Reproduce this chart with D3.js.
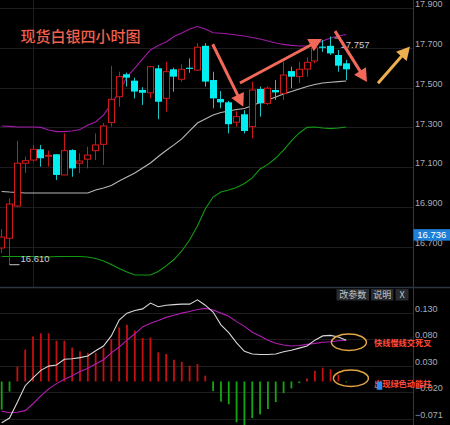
<!DOCTYPE html>
<html><head><meta charset="utf-8">
<script src="https://cdn.jsdelivr.net/npm/d3@7"></script>
<style>html,body{margin:0;padding:0;background:#000;overflow:hidden}</style>
</head><body><svg id="c" width="450" height="425"></svg>
<script>
// ---------------- data ----------------
const barIndex = d3.range(45);
const open  = [16.694,16.743,16.905,17.120,17.136,17.190,17.155,17.165,17.061,17.186,17.120,17.140,17.183,17.215,17.324,17.454,17.567,17.535,17.488,17.474,17.597,17.446,17.592,17.542,17.600,17.588,17.710,17.538,17.443,17.426,17.326,17.366,17.304,17.493,17.421,17.488,17.471,17.583,17.555,17.593,17.634,17.706,17.710,17.664,17.622];
const high  = [16.789,16.944,17.233,17.153,17.212,17.212,17.183,17.166,17.270,17.190,17.170,17.203,17.270,17.322,17.609,17.580,17.575,17.550,17.502,17.609,17.614,17.630,17.600,17.617,17.647,17.723,17.723,17.580,17.483,17.433,17.382,17.387,17.530,17.505,17.505,17.538,17.630,17.605,17.630,17.652,17.723,17.739,17.757,17.689,17.639];
const low   = [16.669,16.610,16.900,17.072,17.128,17.103,17.103,17.036,17.060,17.052,17.070,17.094,17.136,17.111,17.304,17.404,17.505,17.446,17.413,17.446,17.341,17.379,17.479,17.530,17.575,17.583,17.505,17.396,17.396,17.270,17.304,17.270,17.245,17.354,17.413,17.438,17.438,17.497,17.522,17.555,17.622,17.680,17.664,17.580,17.538];
const close = [16.749,16.915,17.120,17.133,17.190,17.145,17.160,17.061,17.183,17.094,17.131,17.161,17.212,17.307,17.441,17.555,17.550,17.480,17.474,17.605,17.429,17.580,17.555,17.592,17.597,17.703,17.530,17.446,17.426,17.316,17.354,17.282,17.488,17.421,17.497,17.476,17.563,17.555,17.592,17.627,17.700,17.702,17.672,17.610,17.592];

const bollUpper = [17.307,17.305,17.302,17.302,17.302,17.300,17.287,17.279,17.279,17.282,17.289,17.312,17.327,17.362,17.418,17.478,17.553,17.598,17.644,17.689,17.712,17.729,17.757,17.774,17.794,17.807,17.794,17.776,17.773,17.769,17.764,17.759,17.752,17.744,17.734,17.724,17.717,17.712,17.709,17.709,17.717,17.734,17.749,17.759,17.767];
const bollMid   = [16.978,16.975,16.973,16.970,16.970,16.970,16.970,16.970,16.970,16.970,16.970,16.970,16.985,16.995,17.008,17.031,17.051,17.071,17.096,17.121,17.154,17.184,17.212,17.242,17.282,17.322,17.342,17.362,17.375,17.382,17.390,17.395,17.410,17.425,17.438,17.453,17.468,17.480,17.493,17.506,17.516,17.523,17.527,17.530,17.533];
const bollLower = [16.651,16.651,16.651,16.651,16.651,16.649,16.649,16.651,16.651,16.651,16.651,16.649,16.641,16.629,16.611,16.591,16.573,16.558,16.558,16.558,16.576,16.604,16.636,16.679,16.734,16.805,16.890,16.950,16.975,16.985,16.998,17.018,17.046,17.091,17.114,17.146,17.186,17.232,17.272,17.300,17.302,17.297,17.294,17.297,17.302];

const macdHist = [-0.053,-0.019,0.028,0.060,0.085,0.091,0.091,0.077,0.077,0.064,0.057,0.054,0.054,0.063,0.080,0.102,0.107,0.096,0.082,0.083,0.055,0.052,0.041,0.037,0.030,0.033,0.011,-0.018,-0.038,-0.043,-0.077,-0.083,-0.069,-0.062,-0.052,-0.039,-0.022,-0.013,-0.003,0.006,0.020,0.026,0.023,0.013,-0.001];
const macdDif  = [-0.078,-0.069,-0.039,-0.008,0.007,0.021,0.029,0.031,0.042,0.043,0.045,0.048,0.058,0.067,0.086,0.116,0.129,0.134,0.137,0.148,0.141,0.144,0.145,0.146,0.146,0.154,0.144,0.131,0.107,0.092,0.073,0.057,0.052,0.051,0.051,0.052,0.056,0.059,0.063,0.067,0.078,0.086,0.087,0.084,0.078];
const macdDea  = [-0.056,-0.059,-0.058,-0.055,-0.042,-0.027,-0.014,-0.004,0.004,0.011,0.019,0.025,0.033,0.041,0.054,0.065,0.078,0.090,0.103,0.110,0.115,0.121,0.125,0.129,0.132,0.136,0.138,0.135,0.129,0.123,0.113,0.104,0.093,0.086,0.078,0.072,0.069,0.067,0.068,0.070,0.072,0.074,0.075,0.077,0.078];

const priceTicks = [17.9,17.7,17.5,17.3,17.1,16.9,16.7];
const macdTicks  = [0.130,0.080,0.030,-0.020,-0.071];
const lastPrice = 16.736;
const minMark = {i:1, v:16.610, text:"16.610"};
const maxMark = {i:42, v:17.757, text:"17.757"};
const title = "现货白银四小时图";
const note1 = "快线慢线交死叉";
const note2 = "出现绿色动能柱";
const buttons = ["改参数","说明","X"];
// annotation arrows in data space [i1, p1, i2, p2]
const redArrows = [[26.95,17.718,30.86,17.404],[30.43,17.523,40.91,17.744],[42.57,17.784,46.65,17.528]];
const goldArrow = [48.06,17.522,52.14,17.706];
const circles = [[44.35,0.074],[44.6,0.006]];

// ---------------- scales ----------------
const W = 450, H = 425, axisX = 413.5;
const x = d3.scaleLinear().domain([0,44]).range([1.7,346.2]);
const yP = d3.scaleLinear().domain([16.7,17.9]).range([246.8,8]);
const yM = d3.scaleLinear().domain([-0.071,0.130]).range([419.1,312.6]);

const svg = d3.select("#c");
svg.append("rect").attr("width",W).attr("height",H).attr("fill","#000");
const defs = svg.append("defs");
defs.append("clipPath").attr("id","cm").append("rect").attr("x",0).attr("y",0).attr("width",axisX).attr("height",287);
defs.append("clipPath").attr("id","cb").append("rect").attr("x",0).attr("y",288).attr("width",axisX).attr("height",137);

const axisFont = "Liberation Sans, Arial, sans-serif";
const cjk = "Noto Sans CJK SC, sans-serif";

// ---------------- grids ----------------
const grid = svg.append("g");
grid.selectAll("line.h").data(priceTicks).join("line")
  .attr("x1",0).attr("x2",axisX).attr("y1",d=>Math.round(yP(d))+0.5).attr("y2",d=>Math.round(yP(d))+0.5)
  .attr("stroke","#1d1d1f");
grid.selectAll("line.m").data(macdTicks).join("line")
  .attr("x1",0).attr("x2",axisX).attr("y1",d=>Math.round(yM(d))+0.5).attr("y2",d=>Math.round(yM(d))+0.5)
  .attr("stroke","#1d1d1f");
grid.append("line").attr("x1",33.5).attr("x2",33.5).attr("y1",0).attr("y2",287).attr("stroke","#1d1d1f");
// panel separator
svg.append("line").attr("x1",0).attr("x2",W).attr("y1",287.5).attr("y2",287.5).attr("stroke","#2e3440").attr("stroke-width",1.5);
// axis line
svg.append("line").attr("x1",axisX).attr("x2",axisX).attr("y1",0).attr("y2",H).attr("stroke","#34373e");

// ---------------- main panel ----------------
const main = svg.append("g").attr("clip-path","url(#cm)");
const bandLine = arr => d3.line().x((d,i)=>x(i)).y(d=>yP(d))(arr);
main.append("path").attr("d",bandLine(bollUpper)).attr("fill","none").attr("stroke","#a01aa8").attr("stroke-width",1.1);
main.append("path").attr("d",bandLine(bollMid)).attr("fill","none").attr("stroke","#b8b8b8").attr("stroke-width",1.1);
main.append("path").attr("d",bandLine(bollLower)).attr("fill","none").attr("stroke","#139a13").attr("stroke-width",1.1);

const cand = main.selectAll("g.c").data(barIndex).join("g");
cand.each(function(i){
  const g = d3.select(this);
  const cx = Math.floor(x(i));
  const up = close[i] >= open[i];
  const col = up ? "#d11a1a" : "#00eef0";
  const wcol = up ? "#c81818" : "#1cc4c4";
  g.append("rect").attr("x",cx).attr("width",1)
    .attr("y",yP(high[i])).attr("height",Math.max(1,yP(low[i])-yP(high[i]))).attr("fill",wcol);
  const top = yP(Math.max(open[i],close[i])), bot = yP(Math.min(open[i],close[i]));
  if (up) {
    g.append("rect").attr("x",cx-2.5).attr("width",6)
      .attr("y",top).attr("height",Math.max(1,bot-top))
      .attr("fill","#000").attr("stroke",col).attr("stroke-width",1);
  } else {
    g.append("rect").attr("x",cx-3).attr("width",7)
      .attr("y",top).attr("height",Math.max(1.2,bot-top)).attr("fill",col);
  }
});

// min/max markers
main.append("line").attr("x1",x(minMark.i)).attr("x2",x(minMark.i)+10)
  .attr("y1",yP(minMark.v)).attr("y2",yP(minMark.v)).attr("stroke","#c8c8c8");
main.append("text").attr("x",x(minMark.i)+11).attr("y",yP(minMark.v)-2.5).text(minMark.text)
  .attr("fill","#cfcfcf").attr("font-family",axisFont).attr("font-size",9.5);
main.append("line").attr("x1",x(maxMark.i)+4).attr("x2",x(maxMark.i)+10)
  .attr("y1",yP(maxMark.v)+1.5).attr("y2",yP(maxMark.v)+1.5).attr("stroke","#c8c8c8");
main.append("text").attr("x",x(maxMark.i)+10).attr("y",yP(maxMark.v)+12).text(maxMark.text)
  .attr("fill","#cfcfcf").attr("font-family",axisFont).attr("font-size",9.5);

// title
svg.append("text").attr("x",20.5).attr("y",35.5).attr("dominant-baseline","central")
  .text(title).attr("fill","#f0604c").attr("font-family",cjk).attr("font-size",15).attr("font-weight",500);

// arrows
function arrow(a, color){
  const x1=x(a[0]), y1=yP(a[1]), x2=x(a[2]), y2=yP(a[3]);
  const dx=x2-x1, dy=y2-y1, L=Math.hypot(dx,dy), ux=dx/L, uy=dy/L;
  const hl=13, hw=7;
  const bx=x2-ux*hl, by=y2-uy*hl;
  svg.append("line").attr("x1",x1).attr("y1",y1).attr("x2",bx+ux*1).attr("y2",by+uy*1)
    .attr("stroke",color).attr("stroke-width",3);
  svg.append("path").attr("d",`M${x2},${y2}L${bx-uy*hw},${by+ux*hw}L${bx+uy*hw},${by-ux*hw}Z`).attr("fill",color);
}
redArrows.forEach(a=>arrow(a,"#f2695a"));
arrow(goldArrow,"#eeb04e");

// price axis labels
const pAxis = svg.append("g").attr("transform",`translate(${axisX},0)`)
  .call(d3.axisRight(yP).tickValues(priceTicks).tickSize(0).tickPadding(1.5).tickFormat(d3.format(".3f")));
pAxis.select(".domain").remove();
pAxis.selectAll("text").attr("fill","#a9adb8").attr("font-family",axisFont).attr("font-size",9).attr("dy","-0.15em");

// last price box
const lp = svg.append("g");
lp.append("rect").attr("x",axisX).attr("y",yP(lastPrice)-10.5).attr("width",W-axisX).attr("height",11.5).attr("fill","#1f7fd6");
lp.append("text").attr("x",(axisX+W)/2).attr("y",yP(lastPrice)-1.5).attr("text-anchor","middle")
  .text(d3.format(".3f")(lastPrice)).attr("fill","#ffffff").attr("font-family",axisFont).attr("font-size",9.5);

// ---------------- MACD panel ----------------
const sub = svg.append("g").attr("clip-path","url(#cb)");
sub.selectAll("rect.h").data(macdHist).join("rect")
  .attr("x",(d,i)=>x(i)-0.9).attr("width",1.8)
  .attr("y",d=>d>=0?yM(d):yM(0)).attr("height",d=>Math.max(0.8,Math.abs(yM(d)-yM(0))))
  .attr("fill",d=>d>=0?"#c41010":"#14a514");
const mLine = arr => d3.line().x((d,i)=>x(i)).y(d=>yM(d))(arr);
sub.append("path").attr("d",mLine(macdDea)).attr("fill","none").attr("stroke","#b31cb3").attr("stroke-width",1.1);
sub.append("path").attr("d",mLine(macdDif)).attr("fill","none").attr("stroke","#d8d8d8").attr("stroke-width",1.1);

const mAxis = svg.append("g").attr("transform",`translate(${axisX},0)`)
  .call(d3.axisRight(yM).tickValues(macdTicks).tickSize(0).tickPadding(1.5).tickFormat(d3.format(".3f")));
mAxis.select(".domain").remove();
mAxis.selectAll("text").attr("fill","#a9adb8").attr("font-family",axisFont).attr("font-size",9).attr("dy","-0.15em");

// buttons
const btnX = [336.5, 371, 395.5], btnW = [32.5, 22.5, 13];
buttons.forEach((b,k)=>{
  svg.append("rect").attr("x",btnX[k]).attr("y",289).attr("width",btnW[k]).attr("height",11.5).attr("fill","#272a2f");
  svg.append("text").attr("x",btnX[k]+btnW[k]/2).attr("y",294.8).attr("dominant-baseline","central").attr("text-anchor","middle")
    .text(b).attr("fill","#c4c4c4").attr("font-family",cjk).attr("font-size",9);
});

// ellipses
circles.forEach(c=>{
  svg.append("ellipse").attr("cx",x(c[0])).attr("cy",yM(c[1])).attr("rx",17.5).attr("ry",8.2)
    .attr("fill","none").attr("stroke","#e3a443").attr("stroke-width",1.5);
});
// notes
svg.append("text").attr("x",374).attr("y",341.5).attr("dominant-baseline","central").text(note1)
  .attr("fill","#ff4a3a").attr("font-family",cjk).attr("font-size",8.2).attr("font-weight",700);
svg.append("text").attr("x",374).attr("y",383.3).attr("dominant-baseline","central").text(note2)
  .attr("fill","#ff4a3a").attr("font-family",cjk).attr("font-size",8.2).attr("font-weight",700);
svg.append("rect").attr("x",376.7).attr("y",yM(0)).attr("width",5.5).attr("height",8.3).attr("fill","#2a8cf0");
</script></body></html>
